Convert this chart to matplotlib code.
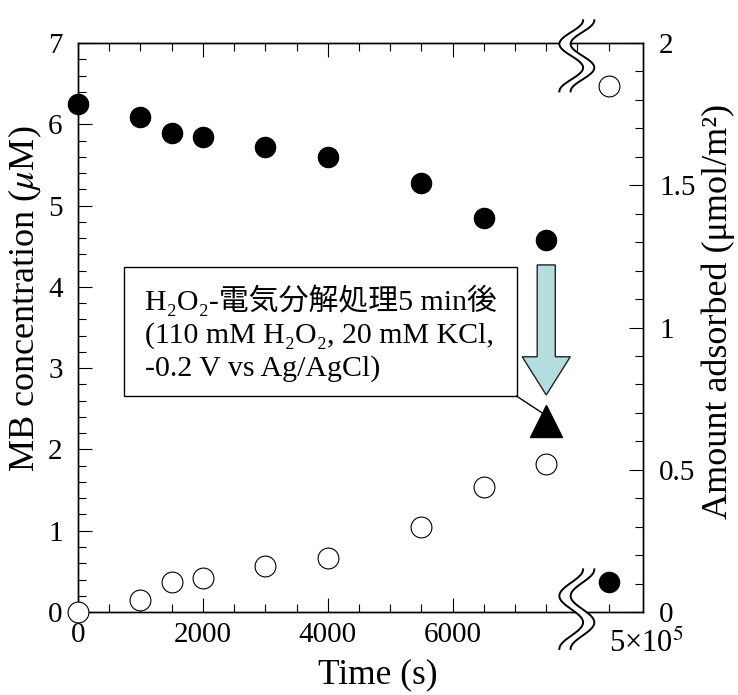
import numpy as np
import matplotlib
matplotlib.use("Agg")
import matplotlib.pyplot as plt
from matplotlib.patches import Rectangle, FancyArrow, Polygon
from matplotlib.ticker import FixedLocator, MultipleLocator

plt.rcParams['font.family'] = ['Liberation Serif', 'DejaVu Serif', 'Noto Sans CJK JP']
plt.rcParams['mathtext.fontset'] = 'stix'

# data
time = [0, 1000, 1500, 2000, 3000, 4000, 5500, 6500, 7500]
mb_conc = [6.25, 6.09, 5.89, 5.84, 5.72, 5.60, 5.28, 4.85, 4.58]
adsorbed = [0.0, 0.042, 0.105, 0.12, 0.16, 0.19, 0.30, 0.44, 0.52]
# value at 5x10^5 s, drawn past the axis break
t_long = 8500
mb_conc_long = 0.37
adsorbed_long = 1.85
# after H2O2 electrolysis treatment
t_treated = 7500
mb_treated = 2.35

xticks = [0, 2000, 4000, 6000]
xtick_labels = ['0', '2000', '4000', '6000']
box_text = "H₂O₂-電気分解処理5 min後\n(110 mM H₂O₂, 20 mM KCl,\n-0.2 V vs Ag/AgCl)"

fig = plt.figure(figsize=(7.38, 6.95), dpi=100)
ax = fig.add_axes([0.1057, 0.1194, 0.7656, 0.8187])
ax2 = ax.twinx()

ax.set_xlim(0, 9050)
ax.set_ylim(0, 7)
ax2.set_ylim(0, 2)

ax.plot(time + [t_long], mb_conc + [mb_conc_long], 'o', color='black',
        markersize=14.5, clip_on=False, zorder=4)
ax2.plot(time + [t_long], adsorbed + [adsorbed_long], 'o', mfc='white', mec='black',
         mew=0.8, markersize=15, clip_on=False, zorder=4)
ax.plot([t_treated], [mb_treated], '^', color='black', markersize=23, zorder=4)

ax.set_xticks(xticks)
ax.set_xticklabels(xtick_labels)
ax.xaxis.set_minor_locator(FixedLocator(np.arange(500, 8600, 500)))
ax.yaxis.set_major_locator(MultipleLocator(1))
ax.yaxis.set_minor_locator(MultipleLocator(0.2))
ax2.set_yticks([0, 0.5, 1, 1.5, 2])
ax2.set_yticklabels(['0', '0.5', '1', '1.5', '2'])
ax2.yaxis.set_minor_locator(MultipleLocator(0.1))

ax.tick_params(which='both', direction='in', top=True, right=False, labelsize=21, width=0.8)
ax.tick_params(which='major', length=10)
ax.tick_params(which='minor', length=5.5)
ax.tick_params(axis='y', pad=11)
ax.tick_params(axis='x', pad=7)
ax2.tick_params(which='both', direction='in', labelsize=21, width=0.8, pad=11.5)
ax2.tick_params(which='major', length=10)
ax2.tick_params(which='minor', length=5.5)

for a in (ax, ax2):
    for sp in a.spines.values():
        sp.set_linewidth(1.0)

ax.set_xlabel('Time (s)', fontsize=25.5)
ax.xaxis.set_label_coords(0.531, -0.082)
ax.set_ylabel('MB concentration ($\\mu$M)', fontsize=26)
ax.yaxis.set_label_coords(-0.060, 0.55)
ax2.set_ylabel('Amount adsorbed (μmol/m²)', fontsize=26)
ax2.yaxis.set_label_coords(1.104, 0.529)

ax.text(8500, -0.03, '5×10$^5$', transform=ax.get_xaxis_transform(),
        ha='left', va='top', fontsize=22)

# annotation box, arrow and leader line
ax.add_patch(Rectangle((740, 2.657), 6284, 1.587, facecolor='white',
                       edgecolor='black', lw=1.0, zorder=3))
ax.text(1070, 3.43, box_text, ha='left', va='center', fontsize=21.5,
        linespacing=1.3, zorder=5)
ax.plot([7024, 7552], [2.657, 2.39], color='black', lw=1.0, zorder=3)
ax.add_patch(FancyArrow(7500, 4.27, 0, -1.6, width=290, head_width=770,
                        head_length=0.47, length_includes_head=True,
                        facecolor='#b4dde0', edgecolor='#222222', lw=1.0, zorder=4))

# axis break marks
trans = ax2.get_xaxis_transform()
s = np.linspace(0, 1, 60)
for y_hi, y_lo in [(1.04, 0.915), (0.075, -0.065)]:
    yy = y_hi - s * (y_hi - y_lo)
    x1 = 7900 + 190 * np.cos(3 * np.pi * s)
    x2 = x1 + 180
    ax2.add_patch(Polygon(np.column_stack([np.r_[x1, x2[::-1]], np.r_[yy, yy[::-1]]]),
                          closed=True, facecolor='white', edgecolor='none',
                          transform=trans, clip_on=False, zorder=9))
    ax2.plot(x1, yy, color='black', lw=1.4, transform=trans, clip_on=False, zorder=10)
    ax2.plot(x2, yy, color='black', lw=1.4, transform=trans, clip_on=False, zorder=10)

fig.savefig('out.png', dpi=100)
